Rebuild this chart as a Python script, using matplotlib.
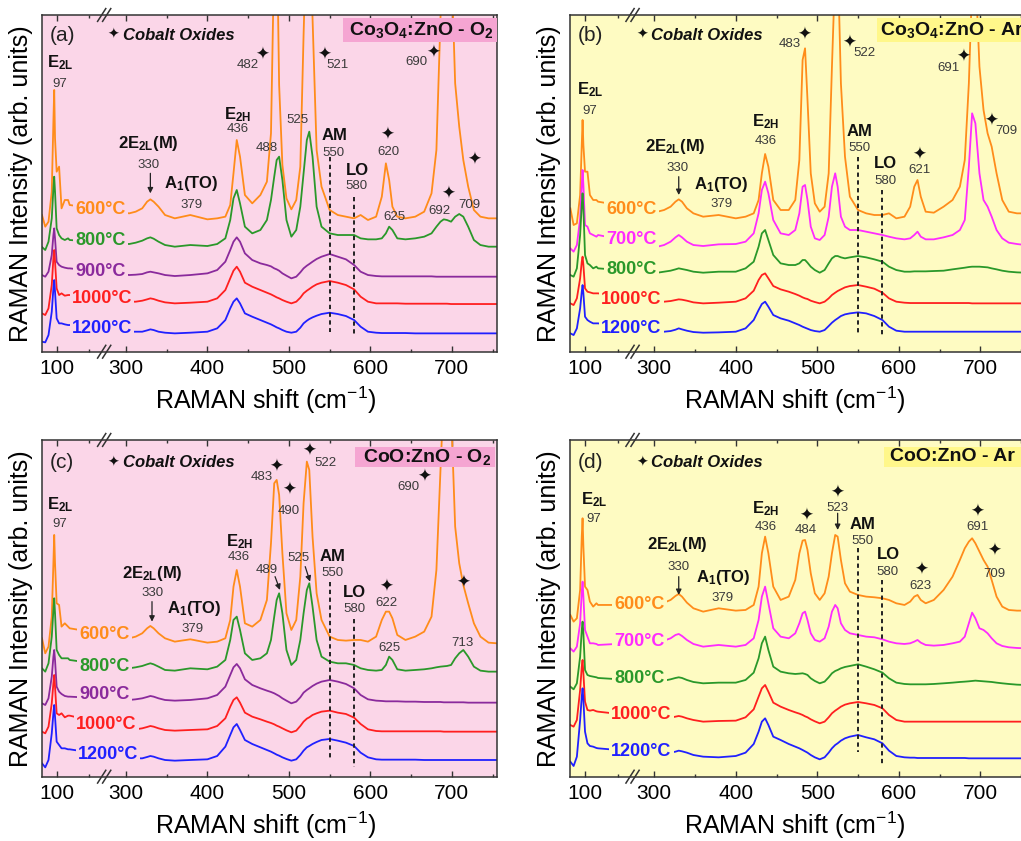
import numpy as np
import matplotlib
matplotlib.use('Agg')
import matplotlib.pyplot as plt
from matplotlib.patches import Rectangle

plt.rcParams['font.family'] = ['Liberation Sans', 'DejaVu Sans']
plt.rcParams['mathtext.fontset'] = 'custom'
plt.rcParams['mathtext.rm'] = 'Liberation Sans'
plt.rcParams['mathtext.it'] = 'Liberation Sans:italic'
plt.rcParams['mathtext.bf'] = 'Liberation Sans:bold'

# ---------------- data (Raman shift grid, cm^-1) ----------------
X_LOW = [82, 86, 90, 94, 96, 97, 98, 100, 103, 106, 110, 114, 116]
X_HIGH = [304, 312, 320, 326, 330, 334, 340, 348, 360, 379,
          400, 412, 422, 428, 432, 436, 440, 446, 455, 465,
          473, 478, 482, 485, 488, 492, 497, 503, 509, 514,
          518, 522, 525, 529, 534, 540, 550, 560, 570, 580,
          588, 597, 607, 614, 619, 623, 627, 633, 643, 655,
          666, 675, 681, 686, 690, 694, 699, 704, 709, 714,
          720, 727, 735, 745, 755]

# Panel (a) Co3O4:ZnO - O2
A600_LOW = [410, 375, 390, 480, 690, 785, 640, 540, 555, 430, 455, 455, 440]
A600_HIGH = [415, 420, 430, 450, 457, 450, 435, 410, 400, 410,
             397, 400, 405, 440, 535, 635, 585, 470, 445, 470,
             510, 655, 1200, 1300, 800, 560, 460, 427, 455, 555,
             950, 1300, 1300, 1000, 605, 495, 425, 410, 405, 400,
             410, 395, 405, 465, 565, 515, 435, 405, 400, 405,
             420, 475, 605, 1000, 1300, 1300, 1200, 805, 675, 575,
             495, 425, 405, 400, 400]
A800_LOW = [314, 305, 330, 400, 490, 525, 480, 370, 350, 340, 335, 340, 335]
A800_HIGH = [323, 327, 333, 340, 343, 339, 330, 320, 315, 320,
             317, 323, 340, 395, 460, 485, 445, 375, 355, 365,
             395, 455, 525, 575, 585, 515, 395, 345, 365, 435,
             535, 635, 660, 585, 435, 375, 355, 350, 350, 350,
             340, 337, 337, 340, 355, 375, 365, 340, 337, 340,
             345, 355, 375, 390, 397, 395, 390, 405, 413, 405,
             375, 335, 320, 315, 315]
A900_LOW = [230, 225, 240, 290, 350, 370, 340, 270, 260, 255, 252, 250, 250]
A900_HIGH = [230, 231, 233, 238, 240, 238, 235, 230, 227, 230,
             235, 245, 270, 305, 330, 343, 330, 295, 275, 265,
             260, 256, 250, 247, 243, 235, 228, 220, 225, 238,
             250, 258, 263, 270, 278, 285, 293, 285, 277, 260,
             240, 230, 227, 226, 226, 226, 226, 226, 226, 226,
             226, 226, 225, 225, 225, 225, 225, 225, 225, 225,
             225, 225, 225, 225, 225]
A1000_LOW = [115, 110, 130, 200, 280, 305, 270, 190, 170, 175, 168, 170, 170]
A1000_HIGH = [150, 150, 153, 157, 160, 158, 153, 148, 145, 147,
              150, 160, 185, 220, 243, 255, 240, 207, 195, 185,
              177, 172, 167, 163, 160, 155, 150, 145, 150, 162,
              175, 183, 188, 195, 202, 207, 212, 207, 200, 187,
              165, 150, 145, 145, 145, 145, 145, 145, 144, 144,
              144, 144, 144, 144, 144, 144, 143, 143, 143, 143,
              143, 143, 143, 143, 143]
A1200_LOW = [30, 28, 50, 120, 190, 215, 180, 100, 85, 85, 82, 80, 80]
A1200_HIGH = [60, 60, 60, 64, 67, 65, 60, 57, 55, 57,
              60, 70, 95, 130, 150, 160, 145, 115, 105, 95,
              87, 82, 77, 73, 70, 65, 60, 57, 60, 72,
              85, 93, 98, 103, 108, 113, 117, 113, 107, 95,
              75, 60, 57, 56, 56, 56, 56, 56, 56, 55,
              55, 55, 55, 55, 55, 55, 55, 55, 55, 55,
              55, 55, 55, 55, 55]

# Panel (b) Co3O4:ZnO - Ar
B600_LOW = [430, 380, 385, 470, 620, 695, 620, 540, 540, 470, 455, 455, 450]
B600_HIGH = [420, 425, 435, 450, 457, 450, 430, 415, 405, 410,
             400, 405, 415, 455, 535, 593, 555, 455, 425, 425,
             455, 575, 875, 910, 755, 535, 445, 420, 435, 535,
             855, 1150, 1200, 805, 585, 465, 425, 415, 410, 410,
             415, 400, 405, 435, 495, 515, 465, 420, 417, 435,
             455, 495, 575, 805, 1100, 1150, 855, 725, 655, 615,
             535, 455, 420, 415, 415]
B700_LOW = [310, 300, 320, 400, 500, 545, 500, 380, 375, 355, 350, 345, 350]
B700_HIGH = [315, 320, 330, 343, 350, 343, 330, 320, 317, 322,
             323, 330, 355, 415, 485, 510, 475, 395, 355, 350,
             365, 415, 495, 500, 455, 375, 340, 335, 350, 405,
             495, 535, 495, 405, 375, 365, 365, 360, 355, 350,
             345, 340, 337, 340, 350, 360, 345, 337, 337, 343,
             350, 365, 395, 555, 715, 685, 535, 455, 435, 405,
             365, 340, 327, 323, 320]
B800_LOW = [230, 225, 250, 350, 440, 475, 430, 290, 265, 260, 250, 255, 250]
B800_HIGH = [237, 240, 243, 247, 250, 248, 245, 240, 237, 240,
             240, 250, 270, 315, 355, 365, 335, 290, 265, 260,
             260, 265, 275, 275, 267, 255, 245, 237, 245, 265,
             280, 287, 287, 283, 280, 283, 287, 283, 277, 270,
             255, 245, 240, 240, 241, 241, 241, 241, 242, 243,
             247, 250, 252, 254, 255, 255, 255, 254, 253, 250,
             247, 243, 240, 238, 237]
B1000_LOW = [145, 140, 160, 220, 270, 285, 260, 190, 180, 178, 175, 175, 175]
B1000_HIGH = [150, 150, 152, 155, 157, 156, 153, 148, 145, 147,
              150, 160, 183, 215, 230, 235, 220, 197, 187, 180,
              173, 168, 163, 160, 158, 153, 149, 145, 150, 160,
              170, 177, 182, 187, 193, 197, 200, 195, 189, 177,
              160, 150, 147, 146, 146, 146, 146, 146, 146, 146,
              146, 146, 146, 146, 145, 145, 145, 145, 145, 145,
              145, 145, 145, 145, 145]
B1200_LOW = [55, 50, 70, 130, 180, 200, 175, 105, 95, 90, 85, 85, 85]
B1200_HIGH = [60, 60, 62, 66, 70, 67, 63, 59, 57, 58,
              60, 70, 95, 125, 143, 150, 135, 110, 100, 93,
              85, 80, 75, 72, 69, 65, 62, 60, 65, 77,
              87, 95, 100, 107, 112, 115, 118, 115, 107, 95,
              75, 63, 60, 60, 60, 60, 60, 60, 60, 60,
              60, 60, 60, 60, 60, 60, 60, 60, 60, 60,
              60, 60, 60, 60, 60]

# Panel (c) CoO:ZnO - O2
C600_LOW = [415, 370, 390, 480, 640, 725, 640, 520, 515, 450, 460, 450, 445]
C600_HIGH = [415, 420, 430, 445, 452, 445, 430, 415, 405, 412,
             402, 405, 415, 470, 570, 620, 570, 460, 450, 470,
             530, 700, 880, 890, 845, 670, 490, 440, 470, 600,
             820, 945, 920, 720, 550, 470, 420, 410, 408, 410,
             410, 405, 420, 470, 495, 495, 475, 425, 410, 420,
             435, 480, 620, 920, 1150, 1200, 1100, 750, 640, 575,
             520, 460, 420, 402, 400]
C800_LOW = [325, 315, 340, 420, 500, 535, 490, 380, 365, 355, 355, 355, 350]
C800_HIGH = [325, 328, 332, 337, 340, 337, 330, 320, 318, 325,
             322, 330, 350, 410, 470, 480, 440, 370, 350, 355,
             370, 410, 480, 530, 550, 490, 380, 335, 350, 410,
             490, 560, 580, 510, 410, 360, 345, 340, 340, 335,
             325, 320, 318, 320, 335, 360, 350, 322, 318, 320,
             322, 325, 328, 330, 331, 332, 335, 355, 370, 380,
             360, 330, 318, 315, 315]
C900_LOW = [220, 215, 235, 300, 360, 380, 350, 270, 255, 248, 242, 240, 240]
C900_HIGH = [230, 232, 235, 239, 242, 240, 235, 230, 228, 230,
             235, 245, 270, 305, 328, 338, 325, 292, 275, 265,
             258, 254, 250, 246, 242, 235, 228, 220, 225, 238,
             252, 260, 265, 272, 279, 285, 290, 285, 278, 265,
             245, 232, 228, 227, 226, 226, 226, 226, 225, 225,
             224, 224, 224, 224, 223, 223, 223, 223, 223, 223,
             222, 222, 222, 222, 222]
C1000_LOW = [135, 130, 150, 220, 280, 305, 270, 190, 185, 190, 178, 183, 183]
C1000_HIGH = [142, 142, 145, 149, 152, 150, 145, 140, 138, 140,
              142, 152, 175, 210, 230, 238, 222, 192, 180, 172,
              165, 161, 157, 153, 150, 145, 139, 133, 138, 152,
              165, 174, 178, 185, 190, 195, 198, 192, 188, 177,
              158, 142, 137, 136, 136, 136, 136, 136, 136, 136,
              136, 136, 136, 136, 135, 135, 135, 135, 135, 135,
              135, 135, 135, 135, 135]
C1200_LOW = [40, 28, 50, 130, 190, 215, 180, 105, 95, 85, 85, 82, 82]
C1200_HIGH = [55, 55, 55, 59, 62, 60, 55, 50, 48, 50,
              52, 62, 90, 125, 148, 158, 140, 110, 98, 88,
              80, 75, 70, 66, 63, 58, 53, 48, 52, 65,
              78, 88, 92, 98, 104, 110, 113, 108, 102, 92,
              72, 58, 52, 51, 51, 51, 51, 51, 51, 51,
              50, 50, 50, 50, 50, 50, 50, 50, 50, 50,
              50, 50, 50, 50, 50]

# Panel (d) CoO:ZnO - Ar
D600_LOW = [485, 465, 475, 560, 720, 775, 690, 570, 560, 525, 510, 520, 515]
D600_HIGH = [515, 522, 530, 542, 548, 540, 522, 505, 495, 505,
             498, 500, 515, 570, 670, 720, 670, 570, 530, 540,
             590, 670, 708, 710, 680, 610, 550, 530, 550, 600,
             670, 725, 720, 650, 580, 555, 545, 540, 538, 535,
             530, 520, 515, 525, 540, 545, 530, 520, 530, 560,
             600, 650, 685, 705, 715, 700, 675, 650, 630, 590,
             540, 510, 500, 498, 498]
D700_LOW = [385, 375, 390, 460, 555, 585, 540, 440, 420, 400, 400, 398, 395]
D700_HIGH = [405, 408, 415, 425, 428, 422, 410, 398, 390, 395,
             390, 395, 415, 470, 540, 570, 520, 445, 420, 415,
             430, 460, 490, 495, 470, 430, 410, 405, 415, 450,
             495, 515, 505, 460, 440, 430, 425, 420, 418, 412,
             405, 400, 398, 400, 405, 410, 402, 395, 393, 395,
             400, 405, 420, 460, 492, 475, 445, 440, 430, 415,
             400, 392, 388, 386, 385]
D800_LOW = [270, 262, 280, 360, 440, 465, 430, 320, 305, 302, 300, 298, 296]
D800_HIGH = [285, 288, 292, 296, 298, 296, 290, 284, 280, 282,
             282, 290, 312, 355, 400, 420, 380, 330, 315, 310,
             308, 309, 310, 308, 305, 295, 287, 280, 285, 298,
             310, 317, 320, 325, 329, 332, 337, 330, 322, 312,
             295, 282, 278, 277, 277, 277, 277, 277, 278, 280,
             282, 284, 285, 286, 287, 288, 287, 286, 285, 284,
             282, 280, 278, 276, 275]
D1000_LOW = [155, 150, 170, 260, 330, 350, 310, 225, 200, 198, 200, 196, 195]
D1000_HIGH = [175, 176, 177, 180, 182, 180, 175, 170, 165, 167,
              168, 178, 202, 240, 265, 275, 255, 222, 210, 200,
              193, 189, 185, 181, 178, 172, 166, 160, 165, 178,
              190, 198, 203, 210, 216, 220, 224, 220, 215, 205,
              185, 170, 165, 165, 165, 165, 165, 165, 165, 165,
              165, 165, 165, 165, 165, 165, 165, 165, 165, 165,
              165, 165, 165, 165, 165]
D1200_LOW = [45, 32, 60, 170, 240, 265, 230, 135, 100, 92, 90, 86, 85]
D1200_HIGH = [70, 71, 72, 75, 78, 76, 72, 65, 60, 58,
              62, 72, 98, 135, 165, 175, 155, 120, 110, 98,
              90, 85, 80, 76, 72, 65, 58, 52, 58, 72,
              85, 95, 100, 108, 115, 120, 125, 118, 112, 100,
              78, 62, 58, 57, 57, 56, 56, 56, 56, 56,
              56, 56, 56, 55, 55, 55, 55, 55, 55, 55,
              55, 55, 55, 55, 55]

MAJOR_TICKS = [100, 300, 400, 500, 600, 700]
MINOR_TICKS = [140, 350, 450, 550, 650, 750]

# ---------------- styles ----------------
ORANGE = '#ff8c1a'
GREEN = '#2a982a'
PURPLE = '#8a2a9c'
RED = '#ff1f1f'
BLUE = '#2020ff'
MAGENTA = '#ff2bff'
PINK_BG = '#fbd6e8'
PINK_BOX = '#f5a5d2'
YEL_BG = '#fefbc2'
YEL_BOX = '#fff78a'

BREAK_LO, BREAK_HI = 160.0, 275.0
SHIFT = BREAK_HI - BREAK_LO


def fwd(x):
    x = np.asarray(x, dtype=float)
    return np.where(x <= BREAK_LO, x, np.where(x >= BREAK_HI, x - SHIFT, BREAK_LO))


def inv(u):
    u = np.asarray(u, dtype=float)
    return np.where(u <= BREAK_LO, u, u + SHIFT)


E2L = r'$\mathbf{E_{2L}}$'
E2H = r'$\mathbf{E_{2H}}$'
E2LM = r'$\mathbf{2E_{2L}(M)}$'
A1TO = r'$\mathbf{A_1(TO)}$'

PANELS = [
    dict(pos=[0.0408, 0.5818, 0.4457, 0.4004], letter='(a)', bg=PINK_BG, boxc=PINK_BOX,
         title=r'Co$_\mathbf{3}$O$_\mathbf{4}$:ZnO - O$_\mathbf{2}$', title_ha='right',
         title_x=0.993, box=(0.663, 0.921, 0.337, 0.069), top_y=0.94,
         curves=[(A600_LOW, A600_HIGH, ORANGE, '600°C', 122.5, 427),
                 (A800_LOW, A800_HIGH, GREEN, '800°C', 122.5, 335),
                 (A900_LOW, A900_HIGH, PURPLE, '900°C', 122.5, 240),
                 (A1000_LOW, A1000_HIGH, RED, '1000°C', 118.5, 160),
                 (A1200_LOW, A1200_HIGH, BLUE, '1200°C', 118.5, 70)],
         dashes=[(550, 585, 60), (580, 465, 50)],
         arrows=[((330, 535), (330, 475))],
         texts=[('m', 104, 868, E2L), ('n', 104, 803, '97'),
                ('m', 437, 710, E2H), ('n', 437, 668, '436'),
                ('m', 328, 623, E2LM), ('n', 328, 560, '330'),
                ('m', 380, 505, A1TO), ('n', 380, 440, '379'),
                ('n', 449, 860, '482'), ('s', 467.6, 890, ''),
                ('s', 543, 890, ''), ('n', 560, 860, '521'),
                ('n', 510, 695, '525'), ('n', 473, 610, '488'),
                ('m', 556, 647, 'AM'), ('n', 555, 595, '550'),
                ('m', 584, 543, 'LO'), ('n', 583, 498, '580'),
                ('s', 621, 650, ''), ('n', 622, 600, '620'),
                ('n', 630, 405, '625'),
                ('n', 656, 870, '690'), ('s', 677, 897, ''),
                ('s', 727, 575, ''),
                ('s', 695, 475, ''), ('n', 685, 423, '692'),
                ('n', 722, 440, '709')]),
    dict(pos=[0.5583, 0.5818, 0.4457, 0.4004], letter='(b)', bg=YEL_BG, boxc=YEL_BOX,
         title=r'Co$_\mathbf{3}$O$_\mathbf{4}$:ZnO - Ar', title_ha='left',
         title_x=0.681, box=(0.674, 0.921, 0.326, 0.069), top_y=0.94,
         curves=[(B600_LOW, B600_HIGH, ORANGE, '600°C', 126.5, 427),
                 (B700_LOW, B700_HIGH, MAGENTA, '700°C', 126.5, 337),
                 (B800_LOW, B800_HIGH, GREEN, '800°C', 126.5, 247),
                 (B1000_LOW, B1000_HIGH, RED, '1000°C', 120, 157),
                 (B1200_LOW, B1200_HIGH, BLUE, '1200°C', 120, 70)],
         dashes=[(550, 585, 50), (580, 485, 45)],
         arrows=[((330, 525), (330, 470))],
         texts=[('m', 106, 785, E2L), ('n', 106, 722, '97'),
                ('m', 437, 690, E2H), ('n', 437, 633, '436'),
                ('m', 326, 615, E2LM), ('n', 328, 550, '330'),
                ('m', 382, 502, A1TO), ('n', 382, 443, '379'),
                ('n', 466, 922, '483'), ('s', 484, 950, ''),
                ('s', 539, 927, ''), ('n', 558, 897, '522'),
                ('m', 552, 660, 'AM'), ('n', 552, 610, '550'),
                ('m', 584, 565, 'LO'), ('n', 584, 513, '580'),
                ('s', 625, 590, ''), ('n', 625, 545, '621'),
                ('n', 661, 850, '691'), ('s', 679, 885, ''),
                ('s', 714, 693, ''), ('n', 732, 663, '709')]),
    dict(pos=[0.0408, 0.0765, 0.4457, 0.4004], letter='(c)', bg=PINK_BG, boxc=PINK_BOX,
         title=r'CoO:ZnO - O$_\mathbf{2}$', title_ha='right',
         title_x=0.989, box=(0.689, 0.921, 0.307, 0.059), top_y=0.933,
         curves=[(C600_LOW, C600_HIGH, ORANGE, '600°C', 128, 425),
                 (C800_LOW, C800_HIGH, GREEN, '800°C', 128, 330),
                 (C900_LOW, C900_HIGH, PURPLE, '900°C', 128, 245),
                 (C1000_LOW, C1000_HIGH, RED, '1000°C', 124, 155),
                 (C1200_LOW, C1200_HIGH, BLUE, '1200°C', 126, 65)],
         dashes=[(550, 585, 50), (580, 472, 30)],
         arrows=[((332, 525), (332, 465)), ((483, 600), (489, 560)),
                 ((520, 630), (526, 585))],
         texts=[('m', 104, 815, E2L), ('n', 104, 757, '97'),
                ('m', 439, 705, E2H), ('n', 438, 660, '436'),
                ('m', 333, 610, E2LM), ('n', 333, 550, '330'),
                ('m', 384, 503, A1TO), ('n', 382, 442, '379'),
                ('n', 467, 900, '483'), ('s', 484, 930, ''),
                ('s', 500, 860, ''), ('n', 500, 797, '490'),
                ('s', 524.5, 978, ''), ('n', 545, 942, '522'),
                ('n', 473, 620, '489'), ('n', 512, 655, '525'),
                ('m', 554, 660, 'AM'), ('n', 553, 610, '550'),
                ('m', 580, 552, 'LO'), ('n', 580, 502, '580'),
                ('s', 620, 570, ''), ('n', 620, 522, '622'),
                ('n', 623, 385, '625'),
                ('n', 647, 870, '690'), ('s', 666, 900, ''),
                ('s', 714, 582, ''), ('n', 713, 402, '713')]),
    dict(pos=[0.5583, 0.0765, 0.4457, 0.4004], letter='(d)', bg=YEL_BG, boxc=YEL_BOX,
         title=r'CoO:ZnO - Ar', title_ha='left',
         title_x=0.703, box=(0.689, 0.921, 0.311, 0.059), top_y=0.933,
         curves=[(D600_LOW, D600_HIGH, ORANGE, '600°C', 136, 515),
                 (D700_LOW, D700_HIGH, MAGENTA, '700°C', 136, 405),
                 (D800_LOW, D800_HIGH, GREEN, '800°C', 136, 295),
                 (D1000_LOW, D1000_HIGH, RED, '1000°C', 132, 185),
                 (D1200_LOW, D1200_HIGH, BLUE, '1200°C', 132, 75)],
         dashes=[(550, 685, 75), (580, 590, 35)],
         arrows=[((330, 600), (330, 545)), ((525, 790), (525, 740))],
         texts=[('m', 111, 832, E2L), ('n', 111, 772, '97'),
                ('m', 437, 805, E2H), ('n', 437, 750, '436'),
                ('m', 328, 695, E2LM), ('n', 330, 628, '330'),
                ('m', 384, 598, A1TO), ('n', 384, 537, '379'),
                ('s', 486, 783, ''), ('n', 486, 740, '484'),
                ('s', 525, 852, ''), ('n', 525, 807, '523'),
                ('m', 556, 755, 'AM'), ('n', 556, 708, '550'),
                ('m', 587, 665, 'LO'), ('n', 586, 615, '580'),
                ('s', 628, 620, ''), ('n', 627, 573, '623'),
                ('s', 696, 795, ''), ('n', 696, 748, '691'),
                ('s', 717, 678, ''), ('n', 717, 608, '709')]),
]

SPINE = '#333333'
fig = plt.figure(figsize=(10.21, 8.41), dpi=100)

for p in PANELS:
    ax = fig.add_axes(p['pos'])
    ax.set_xscale('function', functions=(fwd, inv))
    ax.set_facecolor(p['bg'])
    ax.set_xlim(81.6, 755)
    ax.set_ylim(0, 1010)
    x_all = X_LOW + X_HIGH
    for low, high, col, lab, lx, ly in p['curves']:
        ax.plot(x_all, low + high, color=col, lw=1.3, zorder=2)
        ax.text(lx, ly, lab, color=col, fontsize=13, fontweight='bold',
                ha='left', va='center', zorder=3,
                bbox=dict(boxstyle='square,pad=0.12', fc=p['bg'], ec='none'))
    for xd, y1, y2 in p['dashes']:
        ax.plot([xd, xd], [y1, y2], color='#222222', lw=1.4,
                ls=(0, (2.2, 1.8)), zorder=3)
    for (x0, y0), (x1, y1) in p['arrows']:
        ax.annotate('', xy=(x1, y1), xytext=(x0, y0),
                    arrowprops=dict(arrowstyle='-|>', lw=0.9, color='#222222',
                                    mutation_scale=8, shrinkA=0, shrinkB=0),
                    zorder=4)
    for kind, tx, ty, s in p['texts']:
        if kind == 'n':
            ax.text(tx, ty, s, fontsize=9.5, color='#3a3a3a', ha='center',
                    va='center', zorder=4)
        elif kind == 'm':
            ax.text(tx, ty, s, fontsize=12, color='#111111', ha='center',
                    va='center', fontweight='bold', zorder=4)
        else:
            ax.text(tx, ty, '\u2726', fontsize=12, color='#111111', ha='center',
                    va='center', family='DejaVu Sans', zorder=4)
    # panel letter, legend note and title box
    ax.text(0.017, p['top_y'], p['letter'], transform=ax.transAxes, fontsize=15,
            ha='left', va='center', color='#222222')
    ax.text(0.158, p['top_y'], '\u2726', transform=ax.transAxes, fontsize=10,
            ha='center', va='center', family='DejaVu Sans', color='#111111')
    ax.text(0.179, p['top_y'], 'Cobalt Oxides', transform=ax.transAxes,
            fontsize=12, fontweight='bold', fontstyle='italic', ha='left',
            va='center', color='#111111')
    bx, by, bw, bh = p['box']
    ax.add_patch(Rectangle((bx, by), bw, bh, transform=ax.transAxes,
                           fc=p['boxc'], ec='none', zorder=5))
    ax.text(p['title_x'], by + bh / 2, p['title'], transform=ax.transAxes,
            fontsize=14, fontweight='bold', ha=p['title_ha'], va='center',
            color='#111111', zorder=6)
    # broken-axis marks
    f = (BREAK_LO - 81.6) / (755 - SHIFT - 81.6) - 0.003
    for yb in (0.0, 1.0):
        for off in (-0.0055, 0.0055):
            ax.plot([f + off - 0.009, f + off + 0.009], [yb - 0.019, yb + 0.019],
                    transform=ax.transAxes, color=SPINE, lw=1.1,
                    clip_on=False, zorder=6)
    # axes styling
    ax.set_xticks(MAJOR_TICKS)
    ax.set_xticklabels([str(t) for t in MAJOR_TICKS])
    ax.set_xticks(MINOR_TICKS, minor=True)
    ax.set_yticks([])
    ax.tick_params(axis='x', which='both', direction='in', top=True,
                   color=SPINE, width=1.0)
    ax.tick_params(axis='x', which='major', length=4.5, labelsize=15, pad=5)
    ax.tick_params(axis='x', which='minor', length=2.5)
    for sp in ax.spines.values():
        sp.set_color(SPINE)
        sp.set_linewidth(1.1)
    ax.set_xlabel('RAMAN shift (cm$^{-1}$)', fontsize=18)
    ax.xaxis.set_label_coords(0.493, -0.098)
    ax.set_ylabel('RAMAN Intensity (arb. units)', fontsize=18)
    ax.yaxis.set_label_coords(-0.019, 0.5)

fig.savefig('out.png', dpi=100)
